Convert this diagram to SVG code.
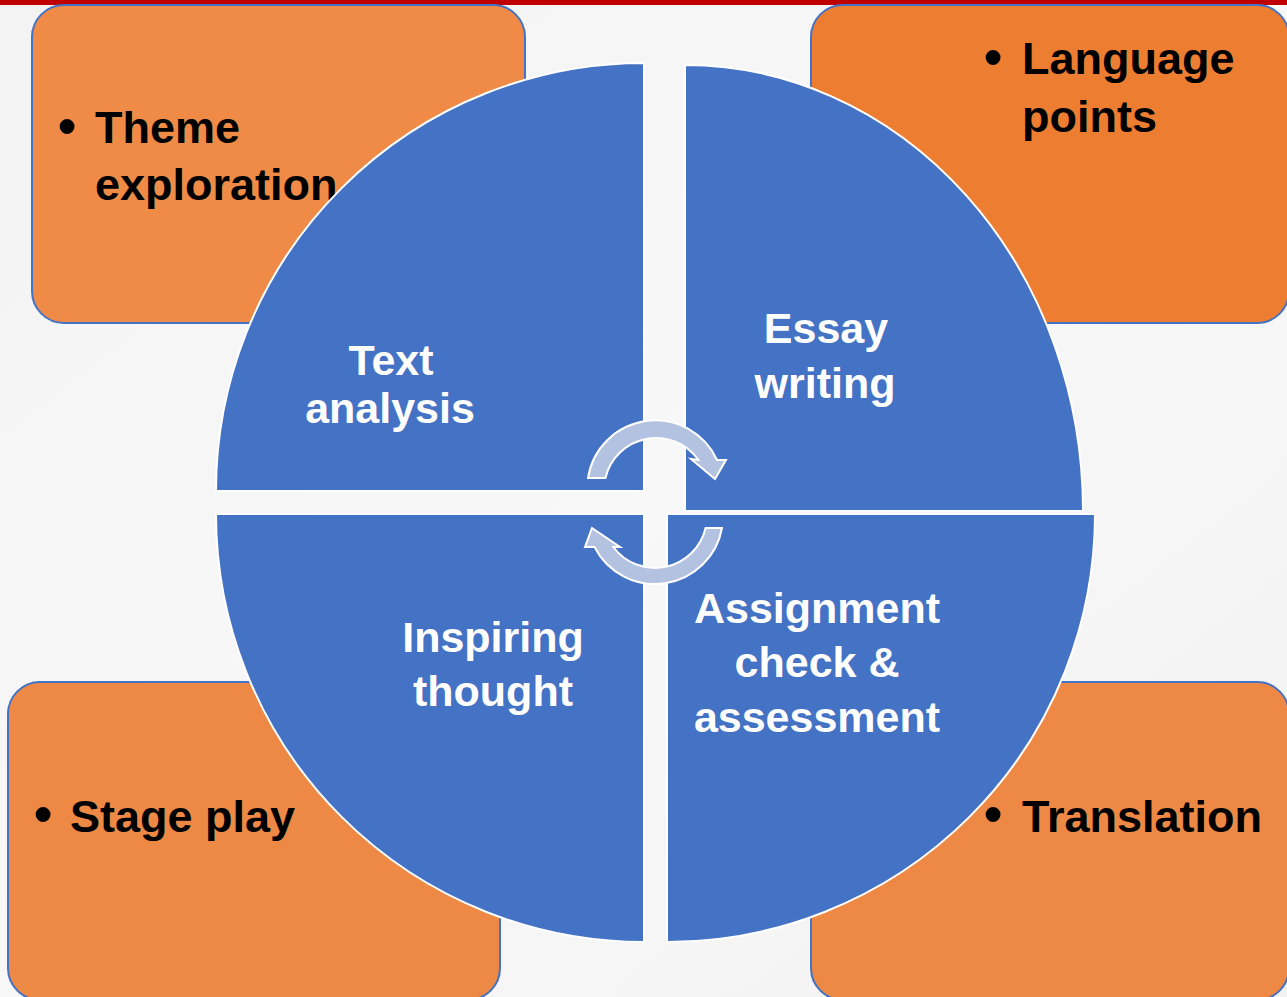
<svg xmlns="http://www.w3.org/2000/svg" width="1287" height="997" viewBox="0 0 1287 997">
<defs>
<linearGradient id="bg" x1="0" y1="0" x2="1" y2="1">
<stop offset="0" stop-color="#F3F3F3"/>
<stop offset="0.5" stop-color="#F8F8F8"/>
<stop offset="1" stop-color="#F2F2F2"/>
</linearGradient>
</defs>
<style>
.box{stroke:#4472C4;stroke-width:2}
.quad{fill:#4472C4;stroke:#FFFFFF;stroke-width:2}
.arrow{fill:#B4C2E2;stroke:#FFFFFF;stroke-width:2;stroke-linejoin:miter}
.outer{font-family:"Liberation Sans",Arial,sans-serif;font-weight:bold;font-size:45px;fill:#000000}
.bullet{font-family:"Liberation Sans",Arial,sans-serif;font-weight:bold;font-size:52px;fill:#000000;text-anchor:middle}
.inner{font-family:"Liberation Sans",Arial,sans-serif;font-weight:bold;font-size:43px;fill:#FFFFFF;text-anchor:middle}
</style>
<rect x="0" y="0" width="1287" height="997" fill="url(#bg)"/>
<rect x="0" y="0" width="1287" height="5" fill="#C00000"/>

<g id="box-theme">
<rect class="box" x="32" y="5" width="493" height="318" rx="32" fill="#EF8B47"/>
<text class="bullet" x="67" y="144">•</text>
<text class="outer" x="95" y="143">Theme</text>
<text class="outer" x="95" y="200">exploration</text>
</g>
<g id="box-language">
<rect class="box" x="811" y="5" width="478" height="318" rx="32" fill="#ED7D31"/>
<text class="bullet" x="993" y="75">•</text>
<text class="outer" x="1022" y="74">Language</text>
<text class="outer" x="1022" y="132">points</text>
</g>
<g id="box-stage">
<rect class="box" x="8" y="682" width="492" height="318" rx="32" fill="#EE8945"/>
<text class="bullet" x="43" y="832">•</text>
<text class="outer" x="70" y="832">Stage play</text>
</g>
<g id="box-translation">
<rect class="box" x="811" y="682" width="478" height="318" rx="32" fill="#EE8945"/>
<text class="bullet" x="993" y="832">•</text>
<text class="outer" x="1022" y="832">Translation</text>
</g>

<g id="quad-text-analysis">
<path class="quad" d="M644,491 L644,63 A428,428 0 0 0 216,491 Z"/>
<text class="inner" x="391" y="375">Text</text>
<text class="inner" x="390" y="423">analysis</text>
</g>
<g id="quad-essay-writing">
<path class="quad" d="M685,511 L685,65 A398,446 0 0 1 1083,511 Z"/>
<text class="inner" x="826" y="343">Essay</text>
<text class="inner" x="825" y="398">writing</text>
</g>
<g id="quad-inspiring-thought">
<path class="quad" d="M644,514 L216,514 A428,428 0 0 0 644,942 Z"/>
<text class="inner" x="493" y="652">Inspiring</text>
<text class="inner" x="493" y="706">thought</text>
</g>
<g id="quad-assignment">
<path class="quad" d="M667,514 L1095,514 A428,428 0 0 1 667,942 Z"/>
<text class="inner" x="817" y="623">Assignment</text>
<text class="inner" x="817" y="677">check &amp;</text>
<text class="inner" x="817" y="732">assessment</text>
</g>

<g id="connectors">
<path class="arrow" d="M588,478 A68,68 0 0 1 717,460 L726,460 L715,479 L691,459 L698.5,460 A52,52 0 0 0 605.4,478 Z"/>
<path class="arrow" d="M722,528 A68,68 0 0 1 594.5,547 L585,547 L592,528 L620,547 L613.3,547 A52,52 0 0 0 705.6,528 Z"/>
</g>
</svg>
